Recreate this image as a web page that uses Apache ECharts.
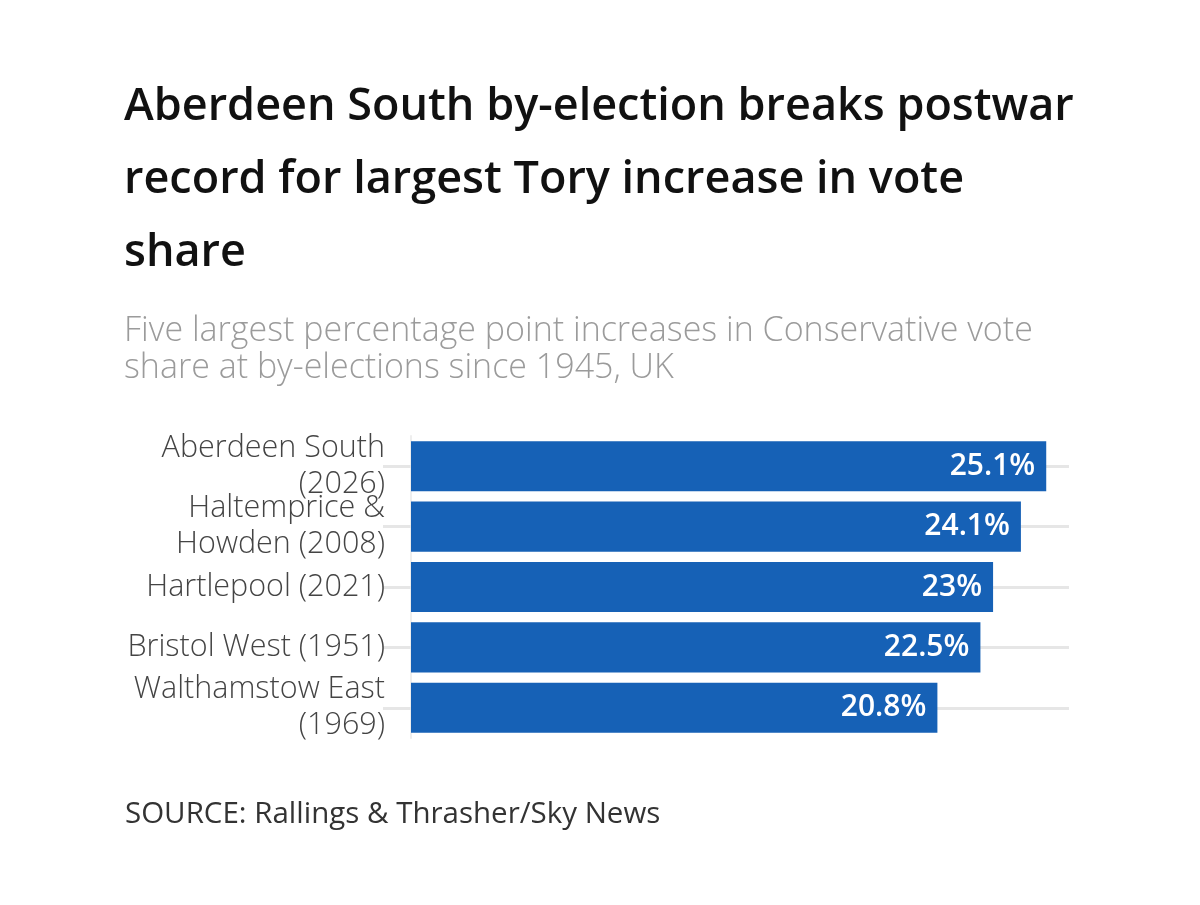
<!DOCTYPE html>
<html><head><meta charset="utf-8">
<script src="https://cdn.jsdelivr.net/npm/echarts@6/dist/echarts.min.js"></script>
<style>html,body{margin:0;padding:0;background:#fff}#c{width:1200px;height:905px}</style>
</head><body><div id="c"></div>
<script>
const titleText = 'Aberdeen South by-election breaks postwar\nrecord for largest Tory increase in vote\nshare';
const subtitleText = 'Five largest percentage point increases in Conservative vote\nshare at by-elections since 1945, UK';
const sourceText = 'SOURCE: Rallings & Thrasher/Sky News';
const categories = ['Aberdeen South\n(2026)', 'Haltemprice &\nHowden (2008)', 'Hartlepool (2021)', 'Bristol West (1951)', 'Walthamstow East\n(1969)'];
const values = [25.1, 24.1, 23, 22.5, 20.8];

const FONT = '"Open Sans", sans-serif';
const chart = echarts.init(document.getElementById('c'));
chart.setOption({
  backgroundColor: '#fff',
  animation: false,
  title: [
    {text: titleText, left: 119, top: 66,
     textStyle: {fontFamily: FONT, fontSize: 45, fontWeight: 600, color: '#111', lineHeight: 73}},
    {text: subtitleText, left: 119, top: 308,
     textStyle: {fontFamily: FONT, fontSize: 34, fontWeight: 300, color: '#9b9b9b', lineHeight: 37}},
    {text: sourceText, left: 120, top: 791,
     textStyle: {fontFamily: FONT, fontSize: 29.5, fontWeight: 400, color: '#333', lineHeight: 37}}
  ],
  grid: {left: 411, top: 436, width: 658, height: 302, containLabel: false},
  xAxis: {type: 'value', min: 0, max: 26, show: false},
  yAxis: [
    {type: 'category', data: categories, inverse: true,
     axisLine: {show: true, lineStyle: {color: '#eeeeee', width: 2}},
     axisTick: {show: true, interval: 0, alignWithLabel: true, length: 28, lineStyle: {color: '#e6e6e6', width: 3}},
     axisLabel: {interval: 0, hideOverlap: false, fontFamily: FONT, fontSize: 30.5, fontWeight: 300, color: '#444', lineHeight: 36, margin: 26, align: 'right'},
     splitLine: {show: false}},
    {type: 'category', data: categories, inverse: true, position: 'left',
     axisLine: {show: false},
     axisTick: {show: true, interval: 0, inside: true, alignWithLabel: true, length: 658, lineStyle: {color: '#e6e6e6', width: 3}},
     axisLabel: {show: false}, splitLine: {show: false}}
  ],
  series: [{
    type: 'bar', data: values, yAxisIndex: 0, barCategoryGap: '17%',
    itemStyle: {color: '#1661b6'},
    label: {show: true, position: 'insideRight', distance: 11, formatter: p => p.value + '%',
      fontFamily: FONT, fontSize: 30, fontWeight: 600, color: '#fff'}
  }]
});
</script></body></html>
